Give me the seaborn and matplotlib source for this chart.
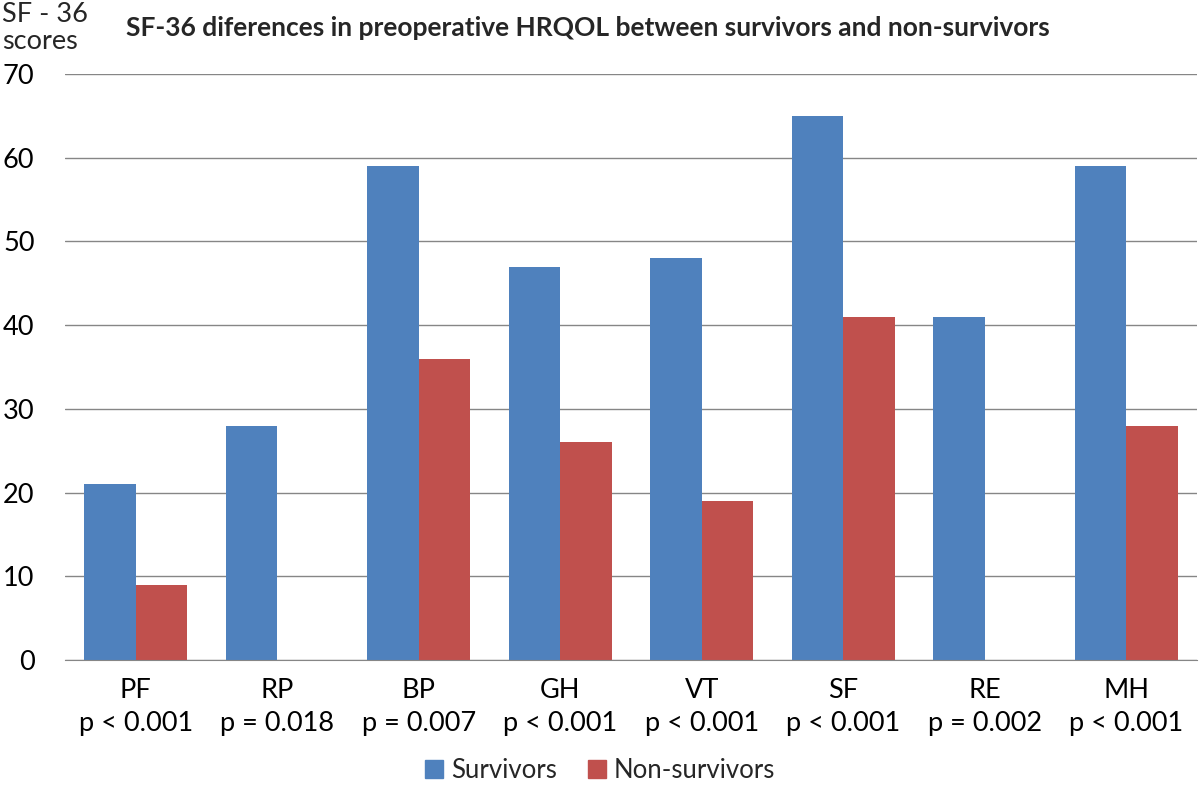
import pandas as pd
import matplotlib.pyplot as plt
import seaborn as sns

# Data
domains = ['PF', 'RP', 'BP', 'GH', 'VT', 'SF', 'RE', 'MH']
p_values = ['p < 0.001', 'p = 0.018', 'p = 0.007', 'p < 0.001',
            'p < 0.001', 'p < 0.001', 'p = 0.002', 'p < 0.001']
survivors = [21, 28, 59, 47, 48, 65, 41, 59]
non_survivors = [9, 0, 36, 26, 19, 41, 0, 28]
groups = ['Survivors', 'Non-survivors']
colors = ['#4F81BD', '#C0504D']

df = pd.DataFrame({
    'Domain': domains * 2,
    'Group': [groups[0]] * len(domains) + [groups[1]] * len(domains),
    'Score': survivors + non_survivors,
})

sns.set_style('white')
plt.rcParams['font.family'] = ['Lato', 'DejaVu Sans']

fig = plt.figure(figsize=(12, 7.97), dpi=100)
ax = fig.add_axes([0.0542, 0.1719, 0.9433, 0.7353])

sns.barplot(data=df, x='Domain', y='Score', hue='Group', palette=colors,
            width=0.73, saturation=1, linewidth=0, ax=ax, legend=False)

ax.set_ylim(0, 70)
ax.set_yticks(range(0, 71, 10))
ax.yaxis.grid(True, color='#868686', linewidth=1)
ax.set_axisbelow(True)
for side in ['left', 'right', 'top']:
    ax.spines[side].set_visible(False)
ax.spines['bottom'].set_color('#868686')
ax.tick_params(axis='both', length=0, labelsize=19.5, colors='black')
ax.tick_params(axis='y', pad=22)
ax.tick_params(axis='x', pad=13)
ax.set_xticks(range(len(domains)))
ax.set_xticklabels([f'{d}\n{p}' for d, p in zip(domains, p_values)],
                   linespacing=1.4)
ax.set_xlabel('')
ax.set_ylabel('')

fig.text(0.002, 0.997, 'SF - 36\nscores', fontsize=19.5, va='top', ha='left',
         linespacing=1.1)
fig.text(0.49, 0.965, 'SF-36 diferences in preoperative HRQOL between survivors and non-survivors',
         fontsize=19, fontweight='bold', ha='center', va='center')

handles = [plt.Rectangle((0, 0), 1, 1, color=c) for c in colors]
fig.legend(handles, groups, loc='center', bbox_to_anchor=(0.5, 0.033), ncol=2,
           frameon=False, fontsize=18.5, handlelength=0.7, handleheight=0.7,
           handletextpad=0.3, columnspacing=1.2)

plt.savefig('out.png', dpi=100)
